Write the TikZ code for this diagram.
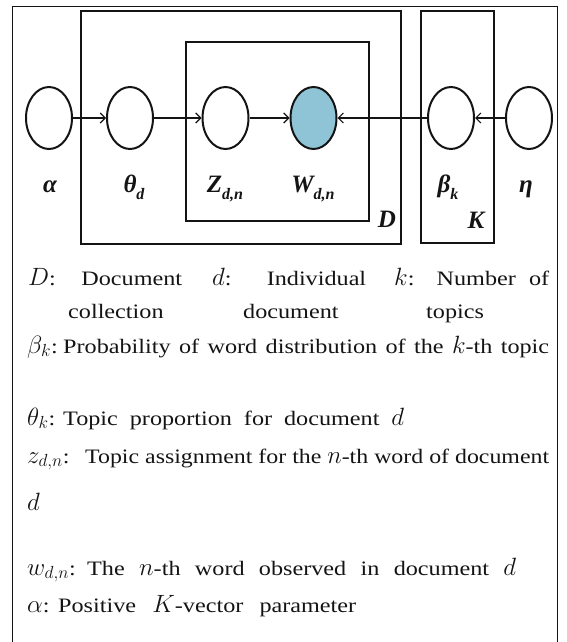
\RequirePackage{fix-cm}
\documentclass[tikz,border=0pt]{standalone}
\usepackage[no-math]{fontspec}
\setmainfont{Liberation Serif}[FakeStretch=1.18]
\newfontfamily\labfont{Liberation Serif}
\usepackage{graphicx}
\usetikzlibrary{shapes.geometric,arrows.meta}
\definecolor{obsblue}{RGB}{142,196,213}
\definecolor{ink}{RGB}{20,20,20}
\newcommand\mvar[1]{{\fontsize{25}{25}\selectfont$#1$}}
\newcommand\lsub[1]{\raisebox{-0.3em}{\fontsize{16}{16}\selectfont #1}}
\tikzset{
  rv/.style={ellipse, draw=ink, line width=2pt, minimum width=46pt, minimum height=62pt, inner sep=0pt, fill=white},
  obs/.style={rv, fill=obsblue},
  plate/.style={draw=ink, line width=2.4pt},
  edge/.style={line width=1.3pt, draw=ink, -{Straight Barb[length=5pt,width=10pt,line width=1.2pt]}},
  lab/.style={inner sep=0pt, anchor=base, text=ink, font=\labfont\fontsize{25}{25}\selectfont\bfseries\itshape},
  txt/.style={inner sep=0pt, anchor=base west, text=ink, font=\fontsize{20.5}{23}\selectfont},
}
\begin{document}
\begin{tikzpicture}[x=1pt,y=-1pt]
\useasboundingbox (0,0) rectangle (566,642);
% outer frame
\draw[ink, line width=0.9pt] (12,642) -- (12,6) -- (557,6) -- (557,642);
% plates
\draw[plate] (81,11) rectangle (401,244);
\draw[plate] (186,42) rectangle (369,221);
\draw[plate] (421,11) rectangle (494,243);
% variables
\node[rv]  (alpha) at (49,118) {};
\node[rv]  (theta) at (130,118) {};
\node[rv]  (z)     at (225.5,118) {};
\node[obs] (w)     at (313.5,118) {};
\node[rv]  (beta)  at (451,118) {};
\node[rv]  (eta)   at (529,118) {};
% edges
\draw[edge] (alpha) -- (theta);
\draw[edge] (theta) -- (z);
\draw[edge] (z) -- (w);
\draw[edge] (beta) -- (w);
\draw[edge] (eta) -- (beta);
% labels
\node[lab] (lalpha) at (50,192) {α};
\node[lab] (ltheta) at (134,192) {θ\lsub{d}};
\node[lab] (lz)     at (225,192) {Z\lsub{d,n}};
\node[lab] (lw)     at (313,192) {W\lsub{d,n}};
\node[lab] (lbeta)  at (448,192) {β\lsub{k}};
\node[lab] (leta)   at (526,192) {η};
\node[lab] (lD)     at (387,227) {D};
\node[lab] (lK)     at (476,228) {K};
% legend text
\node[txt] (l1a) at (28,285)  {\makebox[154pt][s]{\mvar{D}: Document}};
\node[txt] (l1b) at (212,285) {\makebox[154pt][s]{\mvar{d}: Individual}};
\node[txt] (l1c) at (394,285) {\makebox[155pt][s]{\mvar{k}: Number of}};
\node[txt] (l2a) at (68,318)  {collection};
\node[txt] (l2b) at (243,318) {document};
\node[txt] (l2c) at (426,318) {topics};
\node[txt] (l3) at (27,353) {\hbox to 522pt{\mvar{\beta_k}:\hfil\makebox[486pt][s]{Probability of word distribution of the \mvar{k}-th topic}}};
\node[txt] (l4) at (27,425) {\hbox to 377pt{\mvar{\theta_k}:\hfil\makebox[341pt][s]{Topic proportion for document \mvar{d}}}};
\node[txt] (l5) at (27,463) {\hbox to 522pt{\mvar{z_{d,n}}:\hfil\resizebox{464pt}{\height}{Topic assignment for the \mvar{n}-th word of document}}};
\node[txt] (l6) at (27,510) {\mvar{d}};
\node[txt] (l7) at (27,575) {\hbox to 489pt{\mvar{w_{d,n}}:\hfil\makebox[429pt][s]{The \mvar{n}-th word observed in document \mvar{d}}}};
\node[txt] (l8) at (27,612) {\hbox to 329pt{\mvar{\alpha}:\hfil\makebox[298pt][s]{Positive \mvar{K}-vector parameter}}};
\end{tikzpicture}
\end{document}
